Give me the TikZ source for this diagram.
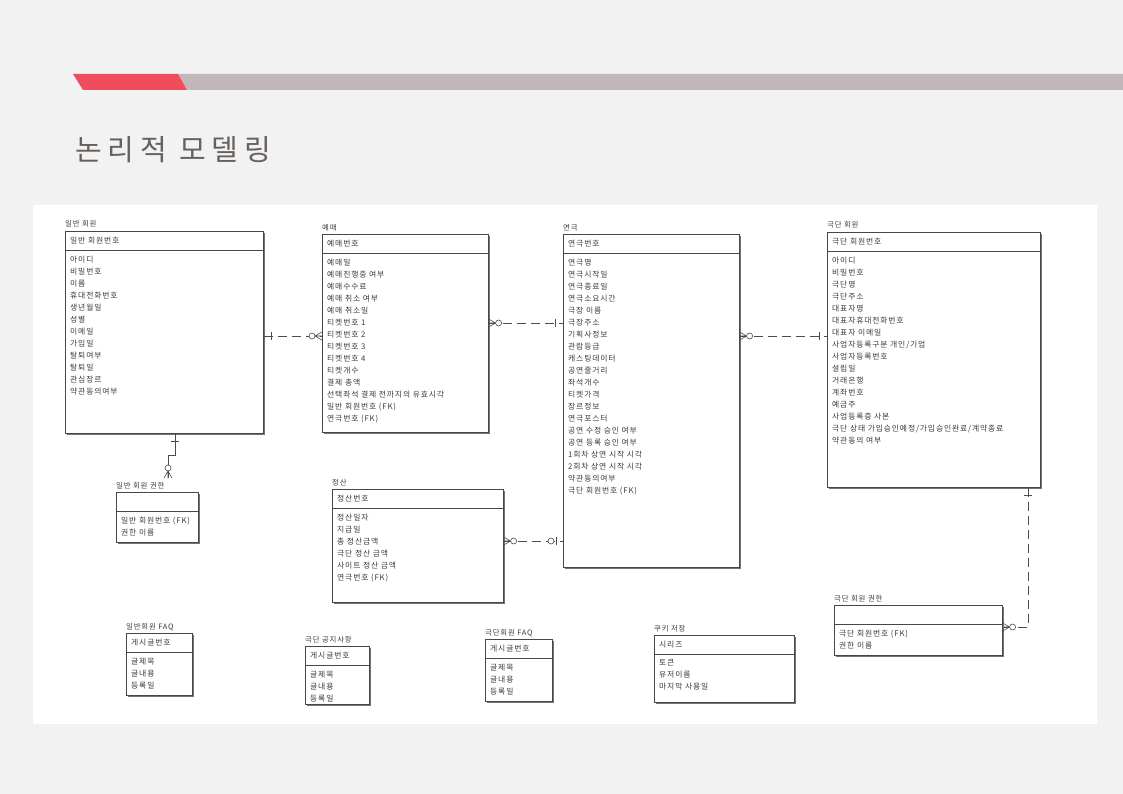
\documentclass[tikz,border=0pt]{standalone}
\usepackage{fontspec}
\setmainfont{Noto Sans CJK KR}
\newfontfamily\erfont[LetterSpace=11]{Noto Sans CJK KR}
\newfontfamily\headfont[LetterSpace=20]{Noto Sans CJK KR}
\usetikzlibrary{shadows}
\definecolor{pagebg}{HTML}{F2F2F2}
\definecolor{barred}{HTML}{EF4D5B}
\definecolor{bargray}{HTML}{C1B7B9}
\definecolor{inkgray}{HTML}{3A3A3A}
\definecolor{titlegray}{HTML}{67615D}
\tikzset{
  entity/.style = {
    draw=black!72, fill=white, line width=0.6pt, inner sep=0pt, anchor=north west,
    drop shadow={shadow xshift=1.6pt, shadow yshift=-1.6pt, fill=black!55, opacity=1}
  },
  entline/.style  = {draw=black!72, line width=0.6pt},
  enttitle/.style = {font=\erfont\fontsize{7.4}{8}\selectfont, text=inkgray, inner sep=0pt, anchor=base west},
  pktext/.style   = {font=\erfont\fontsize{7.8}{8}\selectfont, text=inkgray, inner sep=0pt, anchor=west},
  attrs/.style    = {font=\erfont\fontsize{7.8}{12}\selectfont, text=inkgray, inner sep=0pt,
                     align=left, anchor=north west},
  pagetitle/.style = {font=\headfont\fontsize{29}{30}\selectfont, text=titlegray, inner sep=0pt, anchor=base west},
  rel/.style    = {draw=black!70, line width=0.6pt, dash pattern=on 9pt off 5pt},
  idrel/.style  = {draw=black!70, line width=0.6pt},
  relend/.style = {draw=black!70, line width=0.6pt, solid},
  % ends: origin on the box edge, +x points into the box
  pics/onemark/.style  = {code={\draw[relend] (-8,-4) -- (-8,4);}},
  pics/zeroone/.style  = {code={
      \draw[relend] (-7,-4) -- (-7,4);
      \draw[relend, fill=white] (-12,0) circle[radius=3pt];}},
  pics/zeromany/.style = {code={
      \draw[relend] (-7,0) -- (0,-4) (-7,0) -- (0,0) (-7,0) -- (0,4);
      \draw[relend, fill=white] (-10,0) circle[radius=3pt];}}
}
% [opts] name, x1, y1, x2, y2, title, key, attributes
\newcommand{\erentity}[9][]{%
  \node[entity, minimum width={#5pt-#3pt}, minimum height={#6pt-#4pt}, #1] (#2) at (#3,#4) {};
  \draw[entline] (#3,#4+19) -- (#5,#4+19);
  \node[enttitle] (#2-t) at (#3,#4-4) {#7};
  \node[pktext] (#2-k) at (#3+5,#4+9.5) {#8};
  \node[attrs] (#2-a) at (#3+5,#4+24.5) {#9};
}

\begin{document}
\begin{tikzpicture}[x=1pt, y=-1pt]
\fill[pagebg] (0,0) rectangle (1123,794);
\useasboundingbox (0,0) rectangle (1123,794);
\fill[bargray] (178,74) -- (1123,74) -- (1123,90) -- (187,90) -- cycle;
\fill[barred] (73,74) -- (178,74) -- (187,90) -- (83,90) -- cycle;
\node[pagetitle] (title) at (75,161) {논리적 모델링};
\fill[white] (33,205) rectangle (1097,724);

\erentity{gen}{65}{231}{263}{433}{일반 회원}{일반 회원번호}{아이디\\비밀번호\\이름\\휴대전화번호\\생년월일\\성별\\이메일\\가입일\\탈퇴여부\\탈퇴일\\관심장르\\약관동의여부}
\erentity{yemae}{322}{234}{488}{432}{예매}{예매번호}{예매일\\예매진행중 여부\\예매수수료\\예매 취소 여부\\예매 취소일\\티켓번호 1\\티켓번호 2\\티켓번호 3\\티켓번호 4\\티켓개수\\결제 총액\\선택좌석 결제 전까지의 유효시각\\일반 회원번호 (FK)\\연극번호 (FK)}
\erentity{play}{563}{234}{739}{567}{연극}{연극번호}{연극명\\연극시작일\\연극종료일\\연극소요시간\\극장 이름\\극장주소\\기획사정보\\관람등급\\캐스팅데이터\\공연줄거리\\좌석개수\\티켓가격\\장르정보\\연극포스터\\공연 수정 승인 여부\\공연 등록 승인 여부\\1회차 상연 시작 시각\\2회차 상연 시작 시각\\약관동의여부\\극단 회원번호 (FK)}
\erentity{troupe}{827}{232}{1040}{487}{극단 회원}{극단 회원번호}{아이디\\비밀번호\\극단명\\극단주소\\대표자명\\대표자휴대전화번호\\대표자 이메일\\사업자등록구분 개인/기업\\사업자등록번호\\설립일\\거래은행\\계좌번호\\예금주\\사업등록증 사본\\극단 상태 가입승인예정/가입승인완료/계약종료\\약관동의 여부}
\erentity{genauth}{116}{492}{198}{542}{일반 회원 권한}{}{일반 회원번호 (FK)\\권한 이름}
\erentity{settle}{332}{489}{503}{602}{정산}{정산번호}{정산일자\\지급일\\총 정산금액\\극단 정산 금액\\사이트 정산 금액\\연극번호 (FK)}
\erentity{trauth}{834}{605}{1002}{655}{극단 회원 권한}{}{극단 회원번호 (FK)\\권한 이름}
\erentity{genfaq}{126}{633}{192}{695}{일반회원 FAQ}{게시글번호}{글제목\\글내용\\등록일}
\erentity{notice}{305}{646}{369}{704}{극단 공지사항}{게시글번호}{글제목\\글내용\\등록일}
\erentity{trfaq}{485}{639}{552}{701}{극단회원 FAQ}{게시글번호}{글제목\\글내용\\등록일}
\erentity{cookie}{654}{635}{794}{702}{쿠키 저장}{시리즈}{토큰\\유저이름\\마지막 사용일}

% relationships
\coordinate (genauth-end) at (168,478); % crow stops above the title
\draw[idrel] (gen.south -| 175,0) -- (175,455) -| (genauth-end);
\pic[rotate=90] at (gen.south -| 175,0) {onemark};
\pic[rotate=-90] at (genauth-end) {zeromany};

\draw[rel] (gen.east |- 0,336) -- (yemae.west |- 0,336);
\pic[rotate=180] at (gen.east |- 0,336) {onemark};
\pic at (yemae.west |- 0,336) {zeromany};

\draw[rel] (yemae.east |- 0,323) -- (play.west |- 0,323);
\pic[rotate=180] at (yemae.east |- 0,323) {zeromany};
\pic at (play.west |- 0,323) {onemark};

\draw[rel] (play.east |- 0,336) -- (troupe.west |- 0,336);
\pic[rotate=180] at (play.east |- 0,336) {zeromany};
\pic at (troupe.west |- 0,336) {onemark};

\draw[rel] (settle.east |- 0,541) -- (play.west |- 0,541);
\pic[rotate=180] at (settle.east |- 0,541) {zeromany};
\pic at (play.west |- 0,541) {zeroone};

\draw[rel] (troupe.south -| 1028,0) |- (trauth.east |- 0,627);
\pic[rotate=90] at (troupe.south -| 1028,0) {onemark};
\pic[rotate=180] at (trauth.east |- 0,627) {zeromany};
\end{tikzpicture}
\end{document}
